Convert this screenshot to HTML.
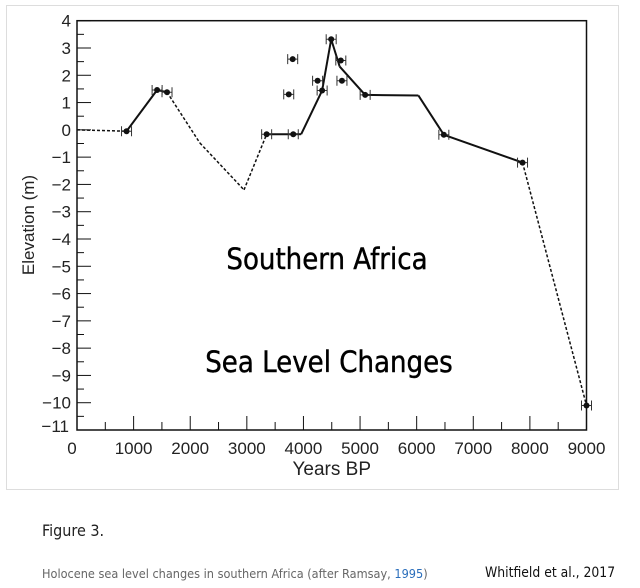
<!DOCTYPE html>
<html><head><meta charset="utf-8"><style>
body{margin:0;background:#fff;width:640px;height:588px;overflow:hidden;font-family:"Liberation Sans",sans-serif}
#frame{position:absolute;left:6px;top:5px;width:613px;height:485px;border:1px solid #ddd;box-sizing:border-box}
svg{position:absolute;left:0;top:0}
.cap{position:absolute;font-family:"DejaVu Sans Condensed","DejaVu Sans","Liberation Sans",sans-serif}
</style></head><body>
<div id="frame"></div>
<svg id="chart" width="640" height="500"></svg>
<div class="cap" style="left:42px;top:521px;font-size:16px;color:#222">Figure 3.</div>
<div class="cap" style="left:42px;top:566px;font-size:12.6px;color:#666">Holocene sea level changes in southern Africa (after Ramsay, <span style="color:#2a6ebb">1995</span>)</div>
<div class="cap" style="left:485px;top:565px;font-size:13.8px;color:#111">Whitfield et al., 2017</div>
<script>
const xTicks=[0,1000,2000,3000,4000,5000,6000,7000,8000,9000];
const yTicks=[4,3,2,1,0,-1,-2,-3,-4,-5,-6,-7,-8,-9,-10,-11];
const lineYears=[0,875,1415,1590,2170,2950,3350,3820,3960,4330,4490,4640,5090,6030,6480,7870,9000];
const lineElev=[0,-0.05,1.46,1.38,-0.48,-2.2,-0.16,-0.16,-0.16,1.44,3.32,2.32,1.28,1.26,-0.18,-1.2,-10.1];
const lineDashed=[1,0,0,1,1,1,0,0,0,0,0,0,0,0,0,1];
const pointYears=[875,1415,1590,3350,3820,4330,4490,5090,6480,7870,9000,3740,3810,4250,4660,4680];
const pointElev=[-0.05,1.46,1.38,-0.16,-0.16,1.44,3.32,1.28,-0.18,-1.2,-10.1,1.3,2.59,1.8,2.54,1.8];
const X0=77,X1=586.5,Y0=20.7,Y1=430;
const sx=v=>X0+(v-0)/9000*(X1-X0);
const sy=v=>Y0+(4-v)/15*(Y1-Y0);
const svg=document.getElementById('chart');const NS='http://www.w3.org/2000/svg';
function mk(t,a,txt){const e=document.createElementNS(NS,t);for(const k in a)e.setAttribute(k,a[k]);if(txt!==undefined)e.textContent=txt;svg.appendChild(e);return e;}
let e=mk('rect',{x:X0,y:Y0,width:X1-X0,height:Y1-Y0,fill:'none',stroke:'#111','stroke-width':1.5});


xTicks.forEach((v,i)=>{
 let t=mk('line',{x1:sx(v),x2:sx(v),y1:Y1,y2:Y1-14,stroke:'#111','stroke-width':1});
 
 
 if(i<xTicks.length-1){let m=mk('line',{x1:sx(v+500),x2:sx(v+500),y1:Y1,y2:Y1-8,stroke:'#111','stroke-width':1});
 
 }
 let l=mk('text',{x:v===0?sx(v)-5:sx(v),y:Y1+24,'text-anchor':'middle','font-size':17,fill:'#222'},String(v));
 
 
});
yTicks.forEach((v,i)=>{
 let t=mk('line',{x1:X0,x2:X0+14,y1:sy(v),y2:sy(v),stroke:'#111','stroke-width':1});
 
 
 if(i<yTicks.length-1){let m=mk('line',{x1:X0,x2:X0+7,y1:sy(v-0.5),y2:sy(v-0.5),stroke:'#111','stroke-width':1});
 
 }
 let l=mk('text',{x:v===-11?X0-8:X0-6,y:sy(v)+(v===-11?2:6),'text-anchor':'end','font-size':17,fill:'#222'},String(v).replace('-','\u2212'));
 
 
});
e=mk('text',{x:sx(4500),y:475,'text-anchor':'middle','font-size':19,fill:'#222'},'Years BP');


e=mk('text',{x:0,y:0,'text-anchor':'middle','font-size':17,fill:'#222',transform:'translate(34,225) rotate(-90)'},'Elevation (m)');


for(let i=0;i<lineYears.length-1;i++){
 let s=mk('line',{x1:sx(lineYears[i]),y1:sy(lineElev[i]),x2:sx(lineYears[i+1]),y2:sy(lineElev[i+1]),stroke:'#111','stroke-width':lineDashed[i]?1.5:2,'stroke-dasharray':lineDashed[i]?'3,2':'none'});
 
 
}
pointYears.forEach((v,i)=>{
 const cx=sx(v),cy=sy(pointElev[i]);
 let b=mk('path',{d:`M${cx-5},${cy}H${cx+5}M${cx-5},${cy-5}V${cy+5}M${cx+5},${cy-5}V${cy+5}`,stroke:'#333','stroke-width':1,fill:'none'});
 
 
 let c=mk('circle',{cx:cx,cy:cy,r:3,fill:'#111'});
 
 
});
e=mk('text',{x:327,y:269,'text-anchor':'middle','font-size':29,fill:'#000','font-family':'DejaVu Sans Condensed, DejaVu Sans, sans-serif','stroke':'#000','stroke-width':0.4},'Southern Africa');


e=mk('text',{x:329,y:372,'text-anchor':'middle','font-size':29,fill:'#000','font-family':'DejaVu Sans Condensed, DejaVu Sans, sans-serif','stroke':'#000','stroke-width':0.4},'Sea Level Changes');


</script>
</body></html>
